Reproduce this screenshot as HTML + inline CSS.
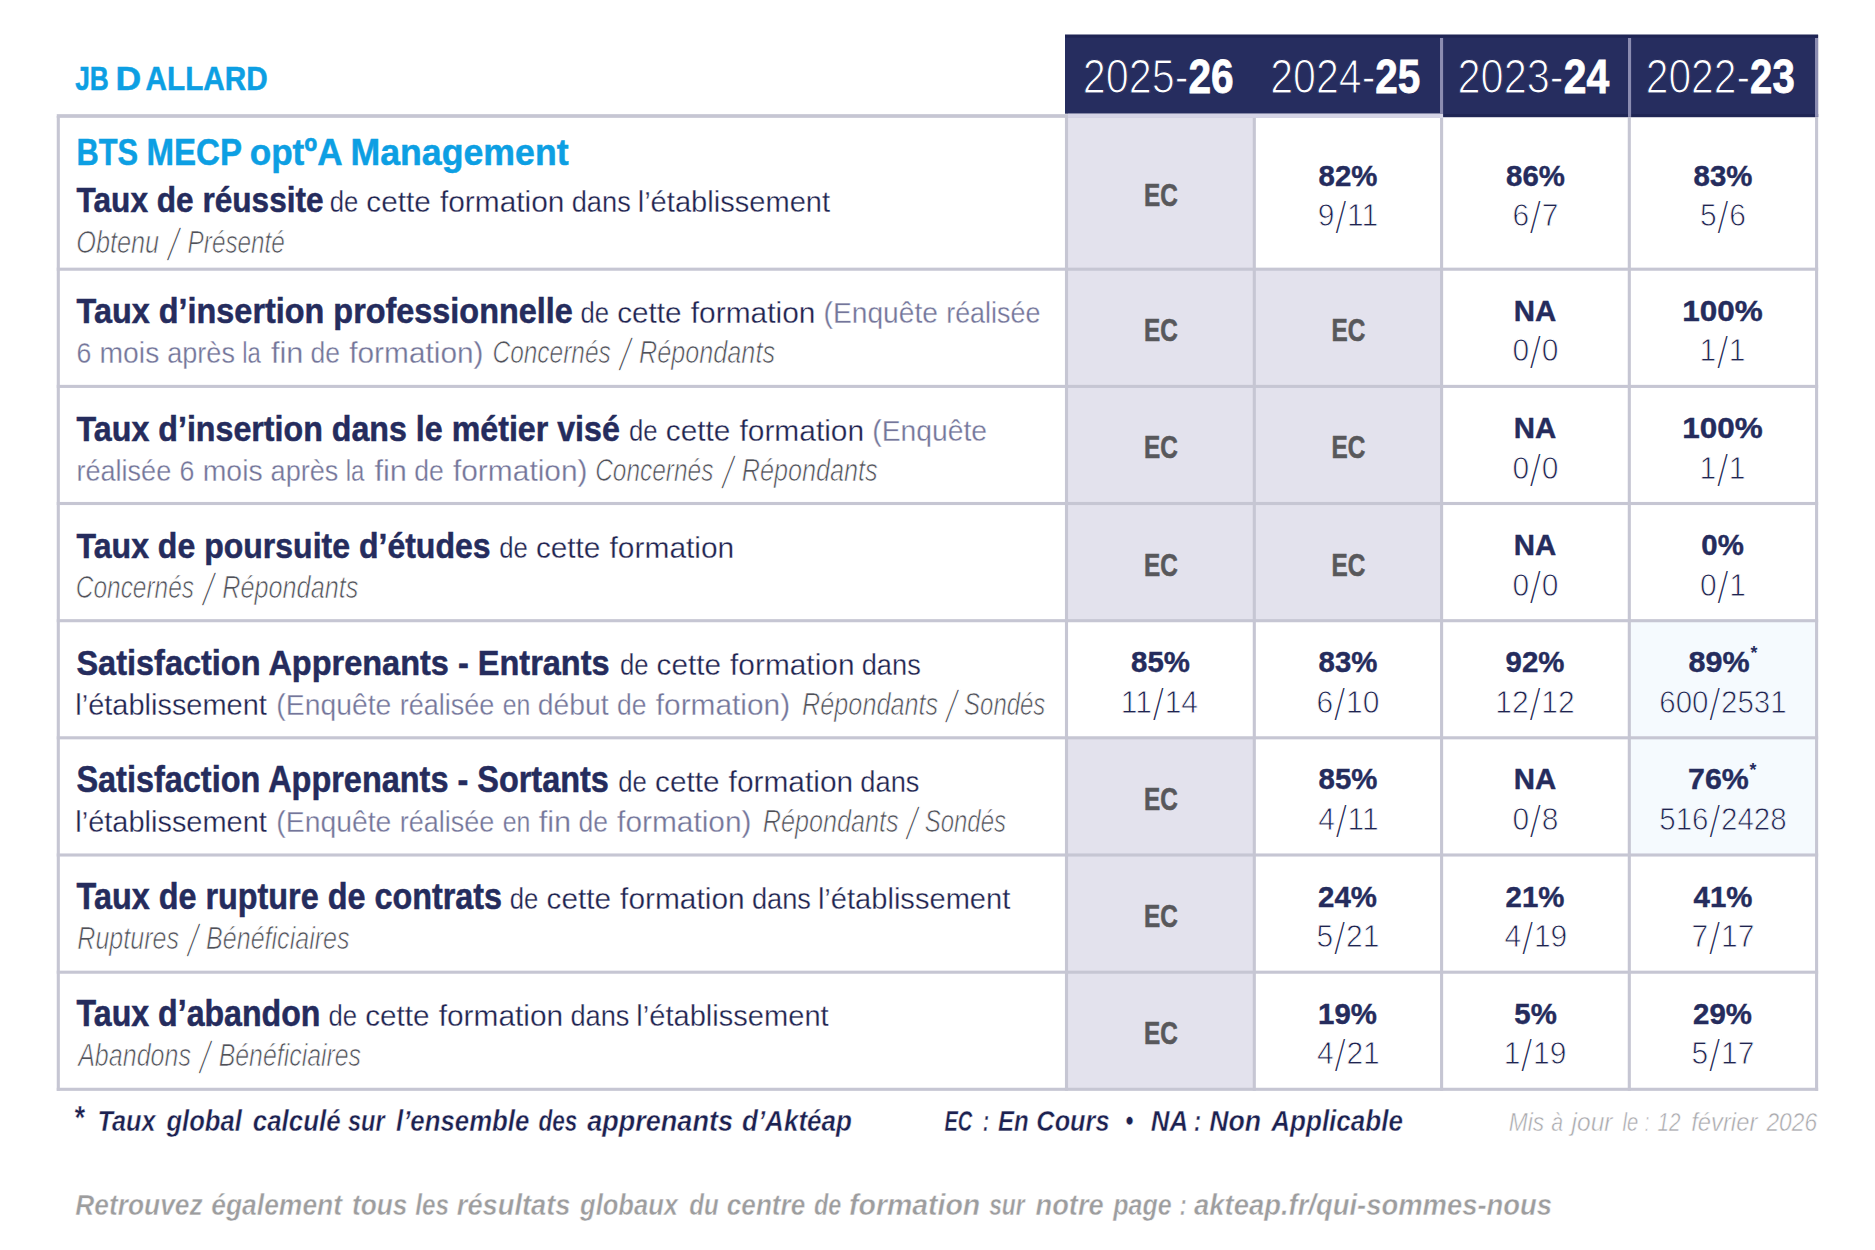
<!DOCTYPE html>
<html lang="fr"><head><meta charset="utf-8"><title>Indicateurs de résultats</title>
<style>html,body{margin:0;padding:0;background:#fff}svg{display:block}text{font-family:"Liberation Sans",sans-serif;white-space:pre}</style></head><body>
<svg width="1875" height="1250" viewBox="0 0 1875 1250">
<rect width="1875" height="1250" fill="#fff"/>
<rect x="1066.50" y="116.00" width="187.80" height="504.70" fill="#e3e2ed"/>
<rect x="1066.50" y="737.80" width="187.80" height="351.50" fill="#e3e2ed"/>
<rect x="1254.30" y="269.20" width="187.30" height="351.50" fill="#e3e2ed"/>
<rect x="1629.30" y="620.70" width="187.30" height="234.30" fill="#f5fafe"/>
<rect x="56.75" y="114.15" width="1761.40" height="3.70" fill="#c6c6d3"/>
<rect x="56.75" y="267.65" width="1761.40" height="3.10" fill="#c6c6d3"/>
<rect x="56.75" y="384.85" width="1761.40" height="3.10" fill="#c6c6d3"/>
<rect x="56.75" y="501.95" width="1761.40" height="3.10" fill="#c6c6d3"/>
<rect x="56.75" y="619.15" width="1761.40" height="3.10" fill="#c6c6d3"/>
<rect x="56.75" y="736.25" width="1761.40" height="3.10" fill="#c6c6d3"/>
<rect x="56.75" y="853.45" width="1761.40" height="3.10" fill="#c6c6d3"/>
<rect x="56.75" y="970.65" width="1761.40" height="3.10" fill="#c6c6d3"/>
<rect x="56.75" y="1087.75" width="1761.40" height="3.10" fill="#c6c6d3"/>
<rect x="56.75" y="116.00" width="3.10" height="974.85" fill="#c6c6d3"/>
<rect x="1064.95" y="116.00" width="3.10" height="974.85" fill="#c6c6d3"/>
<rect x="1252.75" y="116.00" width="3.10" height="974.85" fill="#c6c6d3"/>
<rect x="1440.05" y="116.00" width="3.10" height="974.85" fill="#c6c6d3"/>
<rect x="1627.75" y="116.00" width="3.10" height="974.85" fill="#c6c6d3"/>
<rect x="1815.05" y="116.00" width="3.10" height="974.85" fill="#c6c6d3"/>
<rect x="1065.00" y="34.70" width="375.00" height="79.00" fill="#262d5f"/>
<rect x="1440.00" y="34.70" width="378.10" height="82.20" fill="#262d5f"/>
<rect x="1065.00" y="34.70" width="753.10" height="2.90" fill="#1f2554"/>
<rect x="1443.10" y="114.00" width="375.00" height="2.90" fill="#1f2554"/>
<rect x="1440.00" y="38.00" width="3.10" height="75.70" fill="#8b8cb1"/>
<rect x="1628.00" y="38.00" width="3.10" height="78.90" fill="#8b8cb1"/>
<rect x="1815.00" y="38.00" width="3.10" height="78.90" fill="#8b8cb1"/>
<rect x="1068.00" y="113.70" width="372.00" height="4.15" fill="#d5d4e6"/>
<rect x="1440.00" y="113.70" width="3.10" height="4.30" fill="#d9d8e8"/>
<text transform="matrix(0.7890 0 0 1 75.20 90.30)" font-size="33.4" fill="#0d9fe3" font-weight="700" stroke="#0d9fe3" stroke-width="0.5">JB</text>
<text transform="matrix(1.0667 0 0 1 115.47 90.30)" font-size="33.4" fill="#0d9fe3" font-weight="700" stroke="#0d9fe3" stroke-width="0.5">D</text>
<text transform="matrix(0.8896 0 0 1 145.60 90.30)" font-size="33.4" fill="#0d9fe3" font-weight="700" stroke="#0d9fe3" stroke-width="0.5">ALLARD</text>
<text transform="matrix(0.8151 0 0 1 76.57 164.60)" font-size="37.8" fill="#0d9fe3" font-weight="700" stroke="#0d9fe3" stroke-width="0.5">BTS</text>
<text transform="matrix(0.8746 0 0 1 146.45 164.60)" font-size="37.8" fill="#0d9fe3" font-weight="700" stroke="#0d9fe3" stroke-width="0.5">MECP</text>
<text transform="matrix(0.9303 0 0 1 249.67 164.60)" font-size="37.8" fill="#0d9fe3" font-weight="700" stroke="#0d9fe3" stroke-width="0.5">optºA</text>
<text transform="matrix(0.9440 0 0 1 350.51 164.60)" font-size="37.8" fill="#0d9fe3" font-weight="700" stroke="#0d9fe3" stroke-width="0.5">Management</text>
<text transform="matrix(0.8780 0 0 1 76.60 212.40)" font-size="36" fill="#252c5d" font-weight="700" stroke="#252c5d" stroke-width="0.5">Taux de réussite</text>
<text transform="matrix(0.8671 0 0 1 329.63 212.40)" font-size="29.6" fill="#1f2450" stroke="#fff" stroke-width="0.3">de</text>
<text transform="matrix(1.0040 0 0 1 366.37 212.40)" font-size="29.6" fill="#1f2450" stroke="#fff" stroke-width="0.3">cette</text>
<text transform="matrix(1.0098 0 0 1 439.91 212.40)" font-size="29.6" fill="#1f2450" stroke="#fff" stroke-width="0.3">formation</text>
<text transform="matrix(0.9211 0 0 1 571.68 212.40)" font-size="29.6" fill="#1f2450" stroke="#fff" stroke-width="0.3">dans</text>
<text transform="matrix(0.9831 0 0 1 637.69 212.40)" font-size="29.6" fill="#1f2450" stroke="#fff" stroke-width="0.3">l’établissement</text>
<text transform="matrix(0.8264 0 0 1 76.27 252.80)" font-size="30.6" fill="#505159" font-style="italic" stroke="#fff" stroke-width="0.7">Obtenu</text>
<text transform="matrix(0.8300 0 0 1 168.09 260.76)" font-size="46.512" fill="#505159" font-style="italic" stroke="#fff" stroke-width="1.7">/</text>
<text transform="matrix(0.7938 0 0 1 187.60 252.80)" font-size="30.6" fill="#505159" font-style="italic" stroke="#fff" stroke-width="0.7">Présenté</text>
<text transform="matrix(0.9001 0 0 1 76.60 323.40)" font-size="36" fill="#252c5d" font-weight="700" stroke="#252c5d" stroke-width="0.5">Taux d’insertion professionnelle</text>
<text transform="matrix(0.8674 0 0 1 580.43 323.40)" font-size="29.6" fill="#1f2450" stroke="#fff" stroke-width="0.3">de</text>
<text transform="matrix(1.0044 0 0 1 617.18 323.40)" font-size="29.6" fill="#1f2450" stroke="#fff" stroke-width="0.3">cette</text>
<text transform="matrix(1.0102 0 0 1 690.75 323.40)" font-size="29.6" fill="#1f2450" stroke="#fff" stroke-width="0.3">formation</text>
<text transform="matrix(0.9527 0 0 1 823.55 323.40)" font-size="29.6" fill="#74769a" stroke="#fff" stroke-width="0.3">(Enquête</text>
<text transform="matrix(0.9092 0 0 1 946.19 323.40)" font-size="29.6" fill="#74769a" stroke="#fff" stroke-width="0.3">réalisée</text>
<text transform="matrix(0.9013 0 0 1 76.40 363.40)" font-size="29.6" fill="#74769a" stroke="#fff" stroke-width="0.3">6</text>
<text transform="matrix(0.9572 0 0 1 99.48 363.40)" font-size="29.6" fill="#74769a" stroke="#fff" stroke-width="0.3">mois</text>
<text transform="matrix(0.9151 0 0 1 167.22 363.40)" font-size="29.6" fill="#74769a" stroke="#fff" stroke-width="0.3">après</text>
<text transform="matrix(0.8077 0 0 1 242.23 363.40)" font-size="29.6" fill="#74769a" stroke="#fff" stroke-width="0.3">la</text>
<text transform="matrix(1.0386 0 0 1 270.89 363.40)" font-size="29.6" fill="#74769a" stroke="#fff" stroke-width="0.3">fin</text>
<text transform="matrix(0.8946 0 0 1 310.55 363.40)" font-size="29.6" fill="#74769a" stroke="#fff" stroke-width="0.3">de</text>
<text transform="matrix(1.0086 0 0 1 349.20 363.40)" font-size="29.6" fill="#74769a" stroke="#fff" stroke-width="0.3">formation)</text>
<text transform="matrix(0.7992 0 0 1 492.50 363.40)" font-size="30.6" fill="#505159" font-style="italic" stroke="#fff" stroke-width="0.7">Concernés</text>
<text transform="matrix(0.8250 0 0 1 619.77 371.36)" font-size="46.512" fill="#505159" font-style="italic" stroke="#fff" stroke-width="1.7">/</text>
<text transform="matrix(0.8245 0 0 1 639.00 363.40)" font-size="30.6" fill="#505159" font-style="italic" stroke="#fff" stroke-width="0.7">Répondants</text>
<text transform="matrix(0.8946 0 0 1 76.60 440.60)" font-size="36" fill="#252c5d" font-weight="700" stroke="#252c5d" stroke-width="0.5">Taux d’insertion dans le métier visé</text>
<text transform="matrix(0.8682 0 0 1 629.03 440.60)" font-size="29.6" fill="#1f2450" stroke="#fff" stroke-width="0.3">de</text>
<text transform="matrix(1.0052 0 0 1 665.81 440.60)" font-size="29.6" fill="#1f2450" stroke="#fff" stroke-width="0.3">cette</text>
<text transform="matrix(1.0111 0 0 1 739.45 440.60)" font-size="29.6" fill="#1f2450" stroke="#fff" stroke-width="0.3">formation</text>
<text transform="matrix(0.9557 0 0 1 872.34 440.60)" font-size="29.6" fill="#74769a" stroke="#fff" stroke-width="0.3">(Enquête</text>
<text transform="matrix(0.9154 0 0 1 76.38 480.60)" font-size="29.6" fill="#74769a" stroke="#fff" stroke-width="0.3">réalisée</text>
<text transform="matrix(0.9032 0 0 1 179.56 480.60)" font-size="29.6" fill="#74769a" stroke="#fff" stroke-width="0.3">6</text>
<text transform="matrix(0.9591 0 0 1 202.69 480.60)" font-size="29.6" fill="#74769a" stroke="#fff" stroke-width="0.3">mois</text>
<text transform="matrix(0.9170 0 0 1 270.57 480.60)" font-size="29.6" fill="#74769a" stroke="#fff" stroke-width="0.3">après</text>
<text transform="matrix(0.8094 0 0 1 345.74 480.60)" font-size="29.6" fill="#74769a" stroke="#fff" stroke-width="0.3">la</text>
<text transform="matrix(1.0407 0 0 1 374.45 480.60)" font-size="29.6" fill="#74769a" stroke="#fff" stroke-width="0.3">fin</text>
<text transform="matrix(0.8964 0 0 1 414.20 480.60)" font-size="29.6" fill="#74769a" stroke="#fff" stroke-width="0.3">de</text>
<text transform="matrix(1.0107 0 0 1 452.93 480.60)" font-size="29.6" fill="#74769a" stroke="#fff" stroke-width="0.3">formation)</text>
<text transform="matrix(0.7992 0 0 1 595.20 480.60)" font-size="30.6" fill="#505159" font-style="italic" stroke="#fff" stroke-width="0.7">Concernés</text>
<text transform="matrix(0.8250 0 0 1 722.48 488.56)" font-size="46.512" fill="#505159" font-style="italic" stroke="#fff" stroke-width="1.7">/</text>
<text transform="matrix(0.8245 0 0 1 741.70 480.60)" font-size="30.6" fill="#505159" font-style="italic" stroke="#fff" stroke-width="0.7">Répondants</text>
<text transform="matrix(0.8900 0 0 1 76.60 557.70)" font-size="36" fill="#252c5d" font-weight="700" stroke="#252c5d" stroke-width="0.5">Taux de poursuite d’études</text>
<text transform="matrix(0.8682 0 0 1 499.13 557.70)" font-size="29.6" fill="#1f2450" stroke="#fff" stroke-width="0.3">de</text>
<text transform="matrix(1.0052 0 0 1 535.91 557.70)" font-size="29.6" fill="#1f2450" stroke="#fff" stroke-width="0.3">cette</text>
<text transform="matrix(1.0111 0 0 1 609.55 557.70)" font-size="29.6" fill="#1f2450" stroke="#fff" stroke-width="0.3">formation</text>
<text transform="matrix(0.7992 0 0 1 75.80 597.70)" font-size="30.6" fill="#505159" font-style="italic" stroke="#fff" stroke-width="0.7">Concernés</text>
<text transform="matrix(0.8250 0 0 1 203.07 605.66)" font-size="46.512" fill="#505159" font-style="italic" stroke="#fff" stroke-width="1.7">/</text>
<text transform="matrix(0.8245 0 0 1 222.30 597.70)" font-size="30.6" fill="#505159" font-style="italic" stroke="#fff" stroke-width="0.7">Répondants</text>
<text transform="matrix(0.9030 0 0 1 76.40 674.90)" font-size="36" fill="#252c5d" font-weight="700" stroke="#252c5d" stroke-width="0.5">Satisfaction Apprenants - Entrants</text>
<text transform="matrix(0.8661 0 0 1 619.93 674.90)" font-size="29.6" fill="#1f2450" stroke="#fff" stroke-width="0.3">de</text>
<text transform="matrix(1.0028 0 0 1 656.62 674.90)" font-size="29.6" fill="#1f2450" stroke="#fff" stroke-width="0.3">cette</text>
<text transform="matrix(1.0086 0 0 1 730.08 674.90)" font-size="29.6" fill="#1f2450" stroke="#fff" stroke-width="0.3">formation</text>
<text transform="matrix(0.9200 0 0 1 861.70 674.90)" font-size="29.6" fill="#1f2450" stroke="#fff" stroke-width="0.3">dans</text>
<text transform="matrix(0.9787 0 0 1 75.34 714.90)" font-size="29.6" fill="#1f2450" stroke="#fff" stroke-width="0.3">l’établissement</text>
<text transform="matrix(0.9576 0 0 1 276.34 714.90)" font-size="29.6" fill="#74769a" stroke="#fff" stroke-width="0.3">(Enquête</text>
<text transform="matrix(0.9139 0 0 1 399.63 714.90)" font-size="29.6" fill="#74769a" stroke="#fff" stroke-width="0.3">réalisée</text>
<text transform="matrix(0.8388 0 0 1 502.70 714.90)" font-size="29.6" fill="#74769a" stroke="#fff" stroke-width="0.3">en</text>
<text transform="matrix(0.9561 0 0 1 537.75 714.90)" font-size="29.6" fill="#74769a" stroke="#fff" stroke-width="0.3">début</text>
<text transform="matrix(0.8950 0 0 1 617.07 714.90)" font-size="29.6" fill="#74769a" stroke="#fff" stroke-width="0.3">de</text>
<text transform="matrix(1.0091 0 0 1 655.74 714.90)" font-size="29.6" fill="#74769a" stroke="#fff" stroke-width="0.3">formation)</text>
<text transform="matrix(0.8245 0 0 1 802.10 714.90)" font-size="30.6" fill="#505159" font-style="italic" stroke="#fff" stroke-width="0.7">Répondants</text>
<text transform="matrix(0.8100 0 0 1 946.13 722.86)" font-size="46.512" fill="#505159" font-style="italic" stroke="#fff" stroke-width="1.7">/</text>
<text transform="matrix(0.7829 0 0 1 964.10 714.90)" font-size="30.6" fill="#505159" font-style="italic" stroke="#fff" stroke-width="0.7">Sondés</text>
<text transform="matrix(0.9016 0 0 1 76.40 792.00)" font-size="36" fill="#252c5d" font-weight="700" stroke="#252c5d" stroke-width="0.5">Satisfaction Apprenants - Sortants</text>
<text transform="matrix(0.8669 0 0 1 618.33 792.00)" font-size="29.6" fill="#1f2450" stroke="#fff" stroke-width="0.3">de</text>
<text transform="matrix(1.0038 0 0 1 655.06 792.00)" font-size="29.6" fill="#1f2450" stroke="#fff" stroke-width="0.3">cette</text>
<text transform="matrix(1.0096 0 0 1 728.59 792.00)" font-size="29.6" fill="#1f2450" stroke="#fff" stroke-width="0.3">formation</text>
<text transform="matrix(0.9209 0 0 1 860.34 792.00)" font-size="29.6" fill="#1f2450" stroke="#fff" stroke-width="0.3">dans</text>
<text transform="matrix(0.9787 0 0 1 75.34 832.00)" font-size="29.6" fill="#1f2450" stroke="#fff" stroke-width="0.3">l’établissement</text>
<text transform="matrix(0.9578 0 0 1 276.34 832.00)" font-size="29.6" fill="#74769a" stroke="#fff" stroke-width="0.3">(Enquête</text>
<text transform="matrix(0.9141 0 0 1 399.65 832.00)" font-size="29.6" fill="#74769a" stroke="#fff" stroke-width="0.3">réalisée</text>
<text transform="matrix(0.8390 0 0 1 502.74 832.00)" font-size="29.6" fill="#74769a" stroke="#fff" stroke-width="0.3">en</text>
<text transform="matrix(1.0392 0 0 1 538.75 832.00)" font-size="29.6" fill="#74769a" stroke="#fff" stroke-width="0.3">fin</text>
<text transform="matrix(0.8951 0 0 1 578.44 832.00)" font-size="29.6" fill="#74769a" stroke="#fff" stroke-width="0.3">de</text>
<text transform="matrix(1.0092 0 0 1 617.12 832.00)" font-size="29.6" fill="#74769a" stroke="#fff" stroke-width="0.3">formation)</text>
<text transform="matrix(0.8245 0 0 1 762.70 832.00)" font-size="30.6" fill="#505159" font-style="italic" stroke="#fff" stroke-width="0.7">Répondants</text>
<text transform="matrix(0.8100 0 0 1 906.73 839.96)" font-size="46.512" fill="#505159" font-style="italic" stroke="#fff" stroke-width="1.7">/</text>
<text transform="matrix(0.7829 0 0 1 924.70 832.00)" font-size="30.6" fill="#505159" font-style="italic" stroke="#fff" stroke-width="0.7">Sondés</text>
<text transform="matrix(0.8990 0 0 1 76.60 909.20)" font-size="36" fill="#252c5d" font-weight="700" stroke="#252c5d" stroke-width="0.5">Taux de rupture de contrats</text>
<text transform="matrix(0.8671 0 0 1 509.83 909.20)" font-size="29.6" fill="#1f2450" stroke="#fff" stroke-width="0.3">de</text>
<text transform="matrix(1.0040 0 0 1 546.57 909.20)" font-size="29.6" fill="#1f2450" stroke="#fff" stroke-width="0.3">cette</text>
<text transform="matrix(1.0098 0 0 1 620.11 909.20)" font-size="29.6" fill="#1f2450" stroke="#fff" stroke-width="0.3">formation</text>
<text transform="matrix(0.9211 0 0 1 751.88 909.20)" font-size="29.6" fill="#1f2450" stroke="#fff" stroke-width="0.3">dans</text>
<text transform="matrix(0.9831 0 0 1 817.89 909.20)" font-size="29.6" fill="#1f2450" stroke="#fff" stroke-width="0.3">l’établissement</text>
<text transform="matrix(0.8188 0 0 1 77.30 949.20)" font-size="30.6" fill="#505159" font-style="italic" stroke="#fff" stroke-width="0.7">Ruptures</text>
<text transform="matrix(0.8000 0 0 1 187.70 957.16)" font-size="46.512" fill="#505159" font-style="italic" stroke="#fff" stroke-width="1.7">/</text>
<text transform="matrix(0.8190 0 0 1 206.10 949.20)" font-size="30.6" fill="#505159" font-style="italic" stroke="#fff" stroke-width="0.7">Bénéficiaires</text>
<text transform="matrix(0.8922 0 0 1 76.60 1026.40)" font-size="36" fill="#252c5d" font-weight="700" stroke="#252c5d" stroke-width="0.5">Taux d’abandon</text>
<text transform="matrix(0.8668 0 0 1 328.43 1026.40)" font-size="29.6" fill="#1f2450" stroke="#fff" stroke-width="0.3">de</text>
<text transform="matrix(1.0036 0 0 1 365.15 1026.40)" font-size="29.6" fill="#1f2450" stroke="#fff" stroke-width="0.3">cette</text>
<text transform="matrix(1.0094 0 0 1 438.67 1026.40)" font-size="29.6" fill="#1f2450" stroke="#fff" stroke-width="0.3">formation</text>
<text transform="matrix(0.9207 0 0 1 570.39 1026.40)" font-size="29.6" fill="#1f2450" stroke="#fff" stroke-width="0.3">dans</text>
<text transform="matrix(0.9827 0 0 1 636.36 1026.40)" font-size="29.6" fill="#1f2450" stroke="#fff" stroke-width="0.3">l’établissement</text>
<text transform="matrix(0.8187 0 0 1 78.14 1066.40)" font-size="30.6" fill="#505159" font-style="italic" stroke="#fff" stroke-width="0.7">Abandons</text>
<text transform="matrix(0.8000 0 0 1 199.70 1074.36)" font-size="46.512" fill="#505159" font-style="italic" stroke="#fff" stroke-width="1.7">/</text>
<text transform="matrix(0.8127 0 0 1 218.70 1066.40)" font-size="30.6" fill="#505159" font-style="italic" stroke="#fff" stroke-width="0.7">Bénéficiaires</text>
<text transform="matrix(0.8443 0 0 1 1082.71 93.30)" font-size="49" fill="#fff" stroke="#262d5f" stroke-width="1.2"><tspan>2025-</tspan><tspan font-size="48.2" font-weight="700" stroke="#fff" stroke-width="0.8" dy="-0.10">26</tspan></text>
<text transform="matrix(0.8392 0 0 1 1270.22 93.30)" font-size="49" fill="#fff" stroke="#262d5f" stroke-width="1.2"><tspan>2024-</tspan><tspan font-size="48.2" font-weight="700" stroke="#fff" stroke-width="0.8" dy="-0.10">25</tspan></text>
<text transform="matrix(0.8474 0 0 1 1457.51 93.30)" font-size="49" fill="#fff" stroke="#262d5f" stroke-width="1.2"><tspan>2023-</tspan><tspan font-size="48.2" font-weight="700" stroke="#fff" stroke-width="0.8" dy="-0.10">24</tspan></text>
<text transform="matrix(0.8329 0 0 1 1645.73 93.30)" font-size="49" fill="#fff" stroke="#262d5f" stroke-width="1.2"><tspan>2022-</tspan><tspan font-size="48.2" font-weight="700" stroke="#fff" stroke-width="0.8" dy="-0.10">23</tspan></text>
<text transform="matrix(0.7800 0 0 1 1143.93 206.00)" font-size="31.2" fill="#58585b" font-weight="700" stroke="#58585b" stroke-width="0.6">EC</text>
<text transform="matrix(1.0000 0 0 1 1318.60 185.60)" font-size="29.4" fill="#252c5d" font-weight="700" stroke="#252c5d" stroke-width="0.4">82%</text>
<text transform="matrix(0.9800 0 0 1 1317.73 226.20)" font-size="30.6" fill="#1f2450" stroke="#fff" stroke-width="0.8"><tspan>9</tspan><tspan font-size="46.51" stroke-width="1.90" dy="7.96">/</tspan><tspan dy="-7.96">11</tspan></text>
<text transform="matrix(1.0000 0 0 1 1506.10 185.60)" font-size="29.4" fill="#252c5d" font-weight="700" stroke="#252c5d" stroke-width="0.4">86%</text>
<text transform="matrix(0.9800 0 0 1 1512.45 226.20)" font-size="30.6" fill="#1f2450" stroke="#fff" stroke-width="0.8"><tspan>6</tspan><tspan font-size="46.51" stroke-width="1.90" dy="7.96">/</tspan><tspan dy="-7.96">7</tspan></text>
<text transform="matrix(1.0000 0 0 1 1693.60 185.60)" font-size="29.4" fill="#252c5d" font-weight="700" stroke="#252c5d" stroke-width="0.4">83%</text>
<text transform="matrix(0.9800 0 0 1 1699.95 226.20)" font-size="30.6" fill="#1f2450" stroke="#fff" stroke-width="0.8"><tspan>5</tspan><tspan font-size="46.51" stroke-width="1.90" dy="7.96">/</tspan><tspan dy="-7.96">6</tspan></text>
<text transform="matrix(0.7800 0 0 1 1143.93 341.20)" font-size="31.2" fill="#58585b" font-weight="700" stroke="#58585b" stroke-width="0.6">EC</text>
<text transform="matrix(0.7800 0 0 1 1331.48 341.20)" font-size="31.2" fill="#58585b" font-weight="700" stroke="#58585b" stroke-width="0.6">EC</text>
<text transform="matrix(1.0000 0 0 1 1513.84 320.80)" font-size="29.4" fill="#252c5d" font-weight="700" stroke="#252c5d" stroke-width="0.4">NA</text>
<text transform="matrix(0.9800 0 0 1 1512.45 361.40)" font-size="30.6" fill="#1f2450" stroke="#fff" stroke-width="0.8"><tspan>0</tspan><tspan font-size="46.51" stroke-width="1.90" dy="7.96">/</tspan><tspan dy="-7.96">0</tspan></text>
<text transform="matrix(1.0700 0 0 1 1682.27 320.80)" font-size="29.4" fill="#252c5d" font-weight="700" stroke="#252c5d" stroke-width="0.4">100%</text>
<text transform="matrix(0.9800 0 0 1 1699.46 361.40)" font-size="30.6" fill="#1f2450" stroke="#fff" stroke-width="0.8"><tspan>1</tspan><tspan font-size="46.51" stroke-width="1.90" dy="7.96">/</tspan><tspan dy="-7.96">1</tspan></text>
<text transform="matrix(0.7800 0 0 1 1143.93 458.40)" font-size="31.2" fill="#58585b" font-weight="700" stroke="#58585b" stroke-width="0.6">EC</text>
<text transform="matrix(0.7800 0 0 1 1331.48 458.40)" font-size="31.2" fill="#58585b" font-weight="700" stroke="#58585b" stroke-width="0.6">EC</text>
<text transform="matrix(1.0000 0 0 1 1513.84 438.00)" font-size="29.4" fill="#252c5d" font-weight="700" stroke="#252c5d" stroke-width="0.4">NA</text>
<text transform="matrix(0.9800 0 0 1 1512.45 478.60)" font-size="30.6" fill="#1f2450" stroke="#fff" stroke-width="0.8"><tspan>0</tspan><tspan font-size="46.51" stroke-width="1.90" dy="7.96">/</tspan><tspan dy="-7.96">0</tspan></text>
<text transform="matrix(1.0700 0 0 1 1682.27 438.00)" font-size="29.4" fill="#252c5d" font-weight="700" stroke="#252c5d" stroke-width="0.4">100%</text>
<text transform="matrix(0.9800 0 0 1 1699.46 478.60)" font-size="30.6" fill="#1f2450" stroke="#fff" stroke-width="0.8"><tspan>1</tspan><tspan font-size="46.51" stroke-width="1.90" dy="7.96">/</tspan><tspan dy="-7.96">1</tspan></text>
<text transform="matrix(0.7800 0 0 1 1143.93 575.50)" font-size="31.2" fill="#58585b" font-weight="700" stroke="#58585b" stroke-width="0.6">EC</text>
<text transform="matrix(0.7800 0 0 1 1331.48 575.50)" font-size="31.2" fill="#58585b" font-weight="700" stroke="#58585b" stroke-width="0.6">EC</text>
<text transform="matrix(1.0000 0 0 1 1513.84 555.10)" font-size="29.4" fill="#252c5d" font-weight="700" stroke="#252c5d" stroke-width="0.4">NA</text>
<text transform="matrix(0.9800 0 0 1 1512.45 595.70)" font-size="30.6" fill="#1f2450" stroke="#fff" stroke-width="0.8"><tspan>0</tspan><tspan font-size="46.51" stroke-width="1.90" dy="7.96">/</tspan><tspan dy="-7.96">0</tspan></text>
<text transform="matrix(1.0000 0 0 1 1701.28 555.10)" font-size="29.4" fill="#252c5d" font-weight="700" stroke="#252c5d" stroke-width="0.4">0%</text>
<text transform="matrix(0.9800 0 0 1 1699.95 595.70)" font-size="30.6" fill="#1f2450" stroke="#fff" stroke-width="0.8"><tspan>0</tspan><tspan font-size="46.51" stroke-width="1.90" dy="7.96">/</tspan><tspan dy="-7.96">1</tspan></text>
<text transform="matrix(1.0000 0 0 1 1131.05 672.30)" font-size="29.4" fill="#252c5d" font-weight="700" stroke="#252c5d" stroke-width="0.4">85%</text>
<text transform="matrix(0.9800 0 0 1 1120.86 712.90)" font-size="30.6" fill="#1f2450" stroke="#fff" stroke-width="0.8"><tspan>11</tspan><tspan font-size="46.51" stroke-width="1.90" dy="7.96">/</tspan><tspan dy="-7.96">14</tspan></text>
<text transform="matrix(1.0000 0 0 1 1318.60 672.30)" font-size="29.4" fill="#252c5d" font-weight="700" stroke="#252c5d" stroke-width="0.4">83%</text>
<text transform="matrix(0.9800 0 0 1 1316.62 712.90)" font-size="30.6" fill="#1f2450" stroke="#fff" stroke-width="0.8"><tspan>6</tspan><tspan font-size="46.51" stroke-width="1.90" dy="7.96">/</tspan><tspan dy="-7.96">10</tspan></text>
<text transform="matrix(1.0000 0 0 1 1505.60 672.30)" font-size="29.4" fill="#252c5d" font-weight="700" stroke="#252c5d" stroke-width="0.4">92%</text>
<text transform="matrix(0.9800 0 0 1 1495.29 712.90)" font-size="30.6" fill="#1f2450" stroke="#fff" stroke-width="0.8"><tspan>12</tspan><tspan font-size="46.51" stroke-width="1.90" dy="7.96">/</tspan><tspan dy="-7.96">12</tspan></text>
<text transform="matrix(1.0376 0 0 1 1688.50 672.30)" font-size="29.4" fill="#252c5d" font-weight="700" stroke="#252c5d" stroke-width="0.4">89%</text>
<text transform="matrix(0.9857 0 0 1 1750.40 658.70)" font-size="18" fill="#252c5d" font-weight="700">*</text>
<text transform="matrix(0.9650 0 0 1 1659.26 712.90)" font-size="30.6" fill="#1f2450" stroke="#f5fafe" stroke-width="0.8"><tspan>600</tspan><tspan font-size="46.51" stroke-width="1.90" dy="7.96">/</tspan><tspan dy="-7.96">2531</tspan></text>
<text transform="matrix(0.7800 0 0 1 1143.93 809.80)" font-size="31.2" fill="#58585b" font-weight="700" stroke="#58585b" stroke-width="0.6">EC</text>
<text transform="matrix(1.0000 0 0 1 1318.60 789.40)" font-size="29.4" fill="#252c5d" font-weight="700" stroke="#252c5d" stroke-width="0.4">85%</text>
<text transform="matrix(0.9800 0 0 1 1318.22 830.00)" font-size="30.6" fill="#1f2450" stroke="#fff" stroke-width="0.8"><tspan>4</tspan><tspan font-size="46.51" stroke-width="1.90" dy="7.96">/</tspan><tspan dy="-7.96">11</tspan></text>
<text transform="matrix(1.0000 0 0 1 1513.84 789.40)" font-size="29.4" fill="#252c5d" font-weight="700" stroke="#252c5d" stroke-width="0.4">NA</text>
<text transform="matrix(0.9800 0 0 1 1512.45 830.00)" font-size="30.6" fill="#1f2450" stroke="#fff" stroke-width="0.8"><tspan>0</tspan><tspan font-size="46.51" stroke-width="1.90" dy="7.96">/</tspan><tspan dy="-7.96">8</tspan></text>
<text transform="matrix(1.0314 0 0 1 1688.07 789.40)" font-size="29.4" fill="#252c5d" font-weight="700" stroke="#252c5d" stroke-width="0.4">76%</text>
<text transform="matrix(0.9857 0 0 1 1749.60 775.80)" font-size="18" fill="#252c5d" font-weight="700">*</text>
<text transform="matrix(0.9650 0 0 1 1659.26 830.00)" font-size="30.6" fill="#1f2450" stroke="#f5fafe" stroke-width="0.8"><tspan>516</tspan><tspan font-size="46.51" stroke-width="1.90" dy="7.96">/</tspan><tspan dy="-7.96">2428</tspan></text>
<text transform="matrix(0.7800 0 0 1 1143.93 927.00)" font-size="31.2" fill="#58585b" font-weight="700" stroke="#58585b" stroke-width="0.6">EC</text>
<text transform="matrix(1.0000 0 0 1 1318.10 906.60)" font-size="29.4" fill="#252c5d" font-weight="700" stroke="#252c5d" stroke-width="0.4">24%</text>
<text transform="matrix(0.9800 0 0 1 1316.62 947.20)" font-size="30.6" fill="#1f2450" stroke="#fff" stroke-width="0.8"><tspan>5</tspan><tspan font-size="46.51" stroke-width="1.90" dy="7.96">/</tspan><tspan dy="-7.96">21</tspan></text>
<text transform="matrix(1.0000 0 0 1 1505.60 906.60)" font-size="29.4" fill="#252c5d" font-weight="700" stroke="#252c5d" stroke-width="0.4">21%</text>
<text transform="matrix(0.9800 0 0 1 1504.61 947.20)" font-size="30.6" fill="#1f2450" stroke="#fff" stroke-width="0.8"><tspan>4</tspan><tspan font-size="46.51" stroke-width="1.90" dy="7.96">/</tspan><tspan dy="-7.96">19</tspan></text>
<text transform="matrix(1.0000 0 0 1 1693.60 906.60)" font-size="29.4" fill="#252c5d" font-weight="700" stroke="#252c5d" stroke-width="0.4">41%</text>
<text transform="matrix(0.9800 0 0 1 1691.62 947.20)" font-size="30.6" fill="#1f2450" stroke="#fff" stroke-width="0.8"><tspan>7</tspan><tspan font-size="46.51" stroke-width="1.90" dy="7.96">/</tspan><tspan dy="-7.96">17</tspan></text>
<text transform="matrix(0.7800 0 0 1 1143.93 1044.20)" font-size="31.2" fill="#58585b" font-weight="700" stroke="#58585b" stroke-width="0.6">EC</text>
<text transform="matrix(1.0000 0 0 1 1318.10 1023.80)" font-size="29.4" fill="#252c5d" font-weight="700" stroke="#252c5d" stroke-width="0.4">19%</text>
<text transform="matrix(0.9800 0 0 1 1317.11 1064.40)" font-size="30.6" fill="#1f2450" stroke="#fff" stroke-width="0.8"><tspan>4</tspan><tspan font-size="46.51" stroke-width="1.90" dy="7.96">/</tspan><tspan dy="-7.96">21</tspan></text>
<text transform="matrix(1.0000 0 0 1 1514.28 1023.80)" font-size="29.4" fill="#252c5d" font-weight="700" stroke="#252c5d" stroke-width="0.4">5%</text>
<text transform="matrix(0.9800 0 0 1 1503.63 1064.40)" font-size="30.6" fill="#1f2450" stroke="#fff" stroke-width="0.8"><tspan>1</tspan><tspan font-size="46.51" stroke-width="1.90" dy="7.96">/</tspan><tspan dy="-7.96">19</tspan></text>
<text transform="matrix(1.0000 0 0 1 1693.10 1023.80)" font-size="29.4" fill="#252c5d" font-weight="700" stroke="#252c5d" stroke-width="0.4">29%</text>
<text transform="matrix(0.9800 0 0 1 1691.62 1064.40)" font-size="30.6" fill="#1f2450" stroke="#fff" stroke-width="0.8"><tspan>5</tspan><tspan font-size="46.51" stroke-width="1.90" dy="7.96">/</tspan><tspan dy="-7.96">17</tspan></text>
<text transform="matrix(0.7786 0 0 1 74.70 1129.40)" font-size="34" fill="#1c2150" font-weight="700" stroke="#fff" stroke-width="0.3">*</text>
<text transform="matrix(0.8443 0 0 1 97.51 1130.80)" font-size="30" fill="#1c2150" font-weight="700" font-style="italic" stroke="#fff" stroke-width="0.45">Taux</text>
<text transform="matrix(0.8534 0 0 1 166.45 1130.80)" font-size="30" fill="#1c2150" font-weight="700" font-style="italic" stroke="#fff" stroke-width="0.45">global</text>
<text transform="matrix(0.8629 0 0 1 252.80 1130.80)" font-size="30" fill="#1c2150" font-weight="700" font-style="italic" stroke="#fff" stroke-width="0.45">calculé</text>
<text transform="matrix(0.7835 0 0 1 348.00 1130.80)" font-size="30" fill="#1c2150" font-weight="700" font-style="italic" stroke="#fff" stroke-width="0.45">sur</text>
<text transform="matrix(0.8602 0 0 1 396.00 1130.80)" font-size="30" fill="#1c2150" font-weight="700" font-style="italic" stroke="#fff" stroke-width="0.45">l’ensemble</text>
<text transform="matrix(0.7528 0 0 1 538.40 1130.80)" font-size="30" fill="#1c2150" font-weight="700" font-style="italic" stroke="#fff" stroke-width="0.45">des</text>
<text transform="matrix(0.9018 0 0 1 587.20 1130.80)" font-size="30" fill="#1c2150" font-weight="700" font-style="italic" stroke="#fff" stroke-width="0.45">apprenants</text>
<text transform="matrix(0.8673 0 0 1 742.00 1130.80)" font-size="30" fill="#1c2150" font-weight="700" font-style="italic" stroke="#fff" stroke-width="0.45">d’Aktéap</text>
<text transform="matrix(0.6696 0 0 1 944.40 1130.80)" font-size="30" fill="#1c2150" font-weight="700" font-style="italic" stroke="#fff" stroke-width="0.45">EC</text>
<text transform="matrix(0.6000 0 0 1 983.00 1130.80)" font-size="30" fill="#1c2150" font-weight="700" font-style="italic" stroke="#fff" stroke-width="0.45">:</text>
<text transform="matrix(0.7998 0 0 1 998.00 1130.80)" font-size="30" fill="#1c2150" font-weight="700" font-style="italic" stroke="#fff" stroke-width="0.45">En</text>
<text transform="matrix(0.8436 0 0 1 1036.36 1130.80)" font-size="30" fill="#1c2150" font-weight="700" font-style="italic" stroke="#fff" stroke-width="0.45">Cours</text>
<text transform="matrix(0.7667 0 0 1 1125.23 1130.80)" font-size="30" fill="#1c2150" font-weight="700" font-style="italic" stroke="#fff" stroke-width="0.45">•</text>
<text transform="matrix(0.8640 0 0 1 1150.80 1130.80)" font-size="30" fill="#1c2150" font-weight="700" font-style="italic" stroke="#fff" stroke-width="0.45">NA</text>
<text transform="matrix(0.7000 0 0 1 1194.10 1130.80)" font-size="30" fill="#1c2150" font-weight="700" font-style="italic" stroke="#fff" stroke-width="0.45">:</text>
<text transform="matrix(0.8898 0 0 1 1209.20 1130.80)" font-size="30" fill="#1c2150" font-weight="700" font-style="italic" stroke="#fff" stroke-width="0.45">Non</text>
<text transform="matrix(0.8683 0 0 1 1271.27 1130.80)" font-size="30" fill="#1c2150" font-weight="700" font-style="italic" stroke="#fff" stroke-width="0.45">Applicable</text>
<text transform="matrix(0.8618 0 0 1 1508.80 1130.80)" font-size="26.4" fill="#a9a9ad" font-style="italic" stroke="#fff" stroke-width="0.5">Mis</text>
<text transform="matrix(0.8000 0 0 1 1551.20 1130.80)" font-size="26.4" fill="#a9a9ad" font-style="italic" stroke="#fff" stroke-width="0.5">à</text>
<text transform="matrix(0.9291 0 0 1 1571.59 1130.80)" font-size="26.4" fill="#a9a9ad" font-style="italic" stroke="#fff" stroke-width="0.5">jour</text>
<text transform="matrix(0.7652 0 0 1 1622.40 1130.80)" font-size="26.4" fill="#a9a9ad" font-style="italic" stroke="#fff" stroke-width="0.5">le</text>
<text transform="matrix(0.5333 0 0 1 1645.07 1130.80)" font-size="26.4" fill="#a9a9ad" font-style="italic" stroke="#fff" stroke-width="0.5">:</text>
<text transform="matrix(0.7817 0 0 1 1657.60 1130.80)" font-size="26.4" fill="#a9a9ad" font-style="italic" stroke="#fff" stroke-width="0.5">12</text>
<text transform="matrix(0.9016 0 0 1 1691.20 1130.80)" font-size="26.4" fill="#a9a9ad" font-style="italic" stroke="#fff" stroke-width="0.5">février</text>
<text transform="matrix(0.8612 0 0 1 1766.46 1130.80)" font-size="26.4" fill="#a9a9ad" font-style="italic" stroke="#fff" stroke-width="0.5">2026</text>
<text transform="matrix(0.9097 0 0 1 75.20 1214.50)" font-size="29" fill="#9d9d9e" font-weight="700" font-style="italic" stroke="#fff" stroke-width="0.45">Retrouvez</text>
<text transform="matrix(0.9131 0 0 1 211.20 1214.50)" font-size="29" fill="#9d9d9e" font-weight="700" font-style="italic" stroke="#fff" stroke-width="0.45">également</text>
<text transform="matrix(0.9054 0 0 1 351.89 1214.50)" font-size="29" fill="#9d9d9e" font-weight="700" font-style="italic" stroke="#fff" stroke-width="0.45">tous</text>
<text transform="matrix(0.8361 0 0 1 415.20 1214.50)" font-size="29" fill="#9d9d9e" font-weight="700" font-style="italic" stroke="#fff" stroke-width="0.45">les</text>
<text transform="matrix(0.9407 0 0 1 456.80 1214.50)" font-size="29" fill="#9d9d9e" font-weight="700" font-style="italic" stroke="#fff" stroke-width="0.45">résultats</text>
<text transform="matrix(0.8804 0 0 1 580.08 1214.50)" font-size="29" fill="#9d9d9e" font-weight="700" font-style="italic" stroke="#fff" stroke-width="0.45">globaux</text>
<text transform="matrix(0.8288 0 0 1 689.20 1214.50)" font-size="29" fill="#9d9d9e" font-weight="700" font-style="italic" stroke="#fff" stroke-width="0.45">du</text>
<text transform="matrix(0.9020 0 0 1 726.80 1214.50)" font-size="29" fill="#9d9d9e" font-weight="700" font-style="italic" stroke="#fff" stroke-width="0.45">centre</text>
<text transform="matrix(0.8068 0 0 1 814.00 1214.50)" font-size="29" fill="#9d9d9e" font-weight="700" font-style="italic" stroke="#fff" stroke-width="0.45">de</text>
<text transform="matrix(0.9818 0 0 1 849.02 1214.50)" font-size="29" fill="#9d9d9e" font-weight="700" font-style="italic" stroke="#fff" stroke-width="0.45">formation</text>
<text transform="matrix(0.7856 0 0 1 989.20 1214.50)" font-size="29" fill="#9d9d9e" font-weight="700" font-style="italic" stroke="#fff" stroke-width="0.45">sur</text>
<text transform="matrix(0.9396 0 0 1 1035.60 1214.50)" font-size="29" fill="#9d9d9e" font-weight="700" font-style="italic" stroke="#fff" stroke-width="0.45">notre</text>
<text transform="matrix(0.8635 0 0 1 1113.26 1214.50)" font-size="29" fill="#9d9d9e" font-weight="700" font-style="italic" stroke="#fff" stroke-width="0.45">page</text>
<text transform="matrix(0.7000 0 0 1 1179.70 1214.50)" font-size="29" fill="#9d9d9e" font-weight="700" font-style="italic" stroke="#fff" stroke-width="0.45">:</text>
<text transform="matrix(0.9457 0 0 1 1194.00 1214.50)" font-size="29" fill="#9d9d9e" font-weight="700" font-style="italic" stroke="#fff" stroke-width="0.45">akteap.fr/qui-sommes-nous</text>
</svg></body></html>
